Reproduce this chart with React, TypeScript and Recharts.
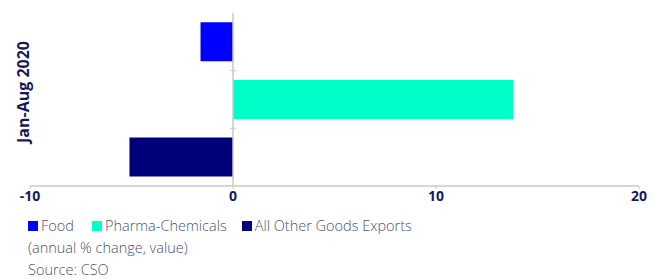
import React from 'react';
import { Bar, BarChart, ReferenceLine, XAxis, YAxis } from 'recharts';

const categories = ['Food', 'Pharma-Chemicals', 'All Other Goods Exports'];
const seriesKeys = ['food', 'pharma', 'other'];
const seriesValues = [-1.6, 13.8, -5.1];
const seriesColors = ['#0000ff', '#00ffc8', '#000078'];
const xTicks = [-10, 0, 10, 20];
const periodLabel = 'Jan-Aug 2020';
const noteText = '(annual % change, value)';
const sourceText = 'Source: CSO';

// one row per series so each bar gets its own band
const data = categories.map((name, i) => ({
  name,
  [seriesKeys[i]]: seriesValues[i],
}));

const NAVY = '#141a5a';
const GRID = '#c8c8c8';
const FONT = '"Open Sans", sans-serif';

const ZeroLine = (props: any) => {
  const { x1, y1, x2, y2 } = props;
  const n = categories.length;
  const marks = [];
  for (let i = 1; i < n; i++) {
    const y = y1 + ((y2 - y1) * i) / n;
    marks.push(<line key={i} x1={x1 - 3} x2={x1 + 3} y1={y} y2={y} stroke={GRID} strokeWidth={1} />);
  }
  return (
    <g>
      <line x1={x1} y1={y1} x2={x2} y2={y2} stroke={GRID} strokeWidth={1.5} />
      {marks}
    </g>
  );
};

export default function App() {
  return (
    <div style={{ position: 'absolute', left: 0, top: 0, width: 654, height: 279, background: '#fff', fontFamily: FONT }}>
      <BarChart
        width={654}
        height={216}
        data={data}
        layout="vertical"
        margin={{ top: 13, right: 15, left: 0, bottom: 0 }}
        barCategoryGap="16%"
      >
        <XAxis
          type="number"
          domain={[-10, 20]}
          ticks={xTicks}
          axisLine={{ stroke: GRID, strokeWidth: 1.5 }}
          tickLine={{ stroke: GRID }}
          tickSize={3}
          tick={{ fill: NAVY, fontSize: 14, fontWeight: 700, fontFamily: FONT }}
          height={30}
        />
        <YAxis type="category" dataKey="name" width={30} tick={false} axisLine={false} tickLine={false} />
        {seriesKeys.map((k, i) => (
          <Bar key={k} dataKey={k} stackId="a" fill={seriesColors[i]} isAnimationActive={false} />
        ))}
        <ReferenceLine x={0} shape={ZeroLine} />
      </BarChart>
      <div
        style={{
          position: 'absolute',
          left: 23,
          top: 92,
          transform: 'translate(-50%, -50%) rotate(-90deg)',
          whiteSpace: 'nowrap',
          fontSize: 16,
          fontWeight: 700,
          color: NAVY,
          lineHeight: '18px',
        }}
      >
        {periodLabel}
      </div>
      <div style={{ position: 'absolute', left: 28, top: 215, fontSize: 14.5, color: '#4b5272', lineHeight: '22px', fontWeight: 300 }}>
        <div style={{ display: 'flex', alignItems: 'center' }}>
          {categories.map((c, i) => (
            <span key={c} style={{ display: 'flex', alignItems: 'center', marginRight: i === 0 ? 18 : 15 }}>
              <span style={{ width: 10, height: 10, background: seriesColors[i], display: 'inline-block', marginRight: 3 }} />
              {c}
            </span>
          ))}
        </div>
        <div>{noteText}</div>
        <div>{sourceText}</div>
      </div>
    </div>
  );
}
